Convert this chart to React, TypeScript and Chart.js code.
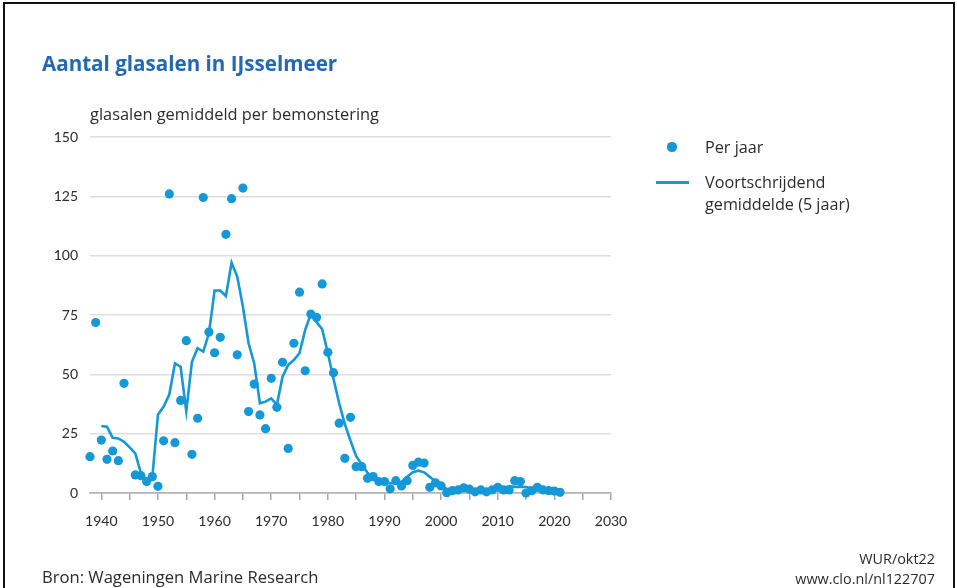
import React, { useEffect, useRef } from "react";
import { Chart, registerables } from "chart.js";

Chart.register(...registerables);

const years = [
  1938, 1939, 1940, 1941, 1942, 1943, 1944, 1945, 1946, 1947, 1948, 1949,
  1950, 1951, 1952, 1953, 1954, 1955, 1956, 1957, 1958, 1959,
  1960, 1961, 1962, 1963, 1964, 1965, 1966, 1967, 1968, 1969,
  1970, 1971, 1972, 1973, 1974, 1975, 1976, 1977, 1978, 1979,
  1980, 1981, 1982, 1983, 1984, 1985, 1986, 1987, 1988, 1989,
  1990, 1991, 1992, 1993, 1994, 1995, 1996, 1997, 1998, 1999,
  2000, 2001, 2002, 2003, 2004, 2005, 2006, 2007, 2008, 2009,
  2010, 2011, 2012, 2013, 2014, 2015, 2016, 2017, 2018, 2019,
  2020, 2021,
];

// glasalen gemiddeld per bemonstering, per jaar
const perJaar: (number | null)[] = [
  15.3, 71.8, 22.3, 14.2, 17.7, 13.6, 46.2, null, 7.6, 7.3, 4.8, 6.9,
  2.8, 22, 126, 21.2, 39, 64.2, 16.3, 31.5, 124.5, 67.8,
  59.1, 65.6, 109, 124, 58.2, 128.5, 34.3, 45.9, 32.9, 27.1,
  48.3, 36.1, 55.1, 18.8, 63.1, 84.6, 51.5, 75.4, 74, 88.1,
  59.3, 50.7, 29.4, 14.6, 31.9, 11.1, 11.1, 6.2, 6.9, 4.8,
  4.8, 1.8, 5.2, 3, 5.2, 11.6, 13, 12.6, 2.4, 4.3,
  3, 0.1, 1, 1.3, 2.2, 1.6, 0.5, 1.3, 0.5, 1.3,
  2.4, 1.3, 1.3, 5.2, 4.8, 0, 1, 2.4, 1.3, 1,
  0.8, 0.3,
];

// voortschrijdend gemiddelde (5 jaar)
const voortschrijdend: (number | null)[] = [
  null, null, 28.2, 27.9, 23.3, 23, 21.6, 19.2, 16.7, 8.3, 5, 6.5,
  33, 36.4, 41.5, 54.6, 53.2, 34.5, 55.3, 61, 59.6, 67.3,
  85.3, 85.3, 83, 97, 91.2, 78.5, 63.1, 54.6, 37.8, 38.5,
  39.9, 37.1, 49, 54, 56, 59, 68.7, 75.5, 72, 69,
  59, 48, 37.8, 29, 22, 15.5, 12, 8.5, 6.5, 5.5,
  4.5, 4.2, 4, 4.7, 6.9, 8.8, 9.4, 8.7, 6.8, 4.8,
  2.5, 1.8, 1.5, 1.3, 1.3, 1.3, 1.2, 1, 1.2, 1.4,
  1.5, 2.2, 2.8, 2.6, 2.6, 2.5, 1.9, 1.2, 1.1, 1,
  null, null,
];

const xTicks = [
  1940, 1945, 1950, 1955, 1960, 1965, 1970, 1975, 1980, 1985, 1990, 1995,
  2000, 2005, 2010, 2015, 2020, 2025, 2030,
];
const yTicks = [0, 25, 50, 75, 100, 125, 150];

const BLUE = "#1598d8";
const TEXT = "#2b2b2b";
const FONT = "'Open Sans', Lato, sans-serif";

function Label(props: {
  x: number;
  y: number;
  size: number;
  weight?: number;
  color?: string;
  right?: boolean;
  children: React.ReactNode;
}) {
  const lh = Math.round(props.size * 1.3);
  const style: React.CSSProperties = {
    position: "absolute",
    top: props.y - lh / 2,
    fontSize: props.size,
    lineHeight: lh + "px",
    fontWeight: props.weight || 400,
    color: props.color || TEXT,
    whiteSpace: "nowrap",
    fontFamily: FONT,
  };
  if (props.right) style.right = 957 - props.x;
  else style.left = props.x;
  return <div style={style}>{props.children}</div>;
}

export default function App() {
  const ref = useRef<HTMLCanvasElement>(null);

  useEffect(() => {
    document.body.style.margin = "0";
    const canvas = ref.current;
    if (!canvas) return;
    const tickFont = { family: "Lato", size: 14 };
    const chart = new Chart(canvas, {
      type: "line",
      data: {
        datasets: [
          {
            label: "Per jaar",
            data: years.map((yr, i) => ({ x: yr, y: perJaar[i] })) as any,
            showLine: false,
            pointRadius: 4.6,
            pointBackgroundColor: BLUE,
            pointBorderWidth: 0,
            borderColor: BLUE,
            clip: false as any,
          },
          {
            label: "Voortschrijdend gemiddelde (5 jaar)",
            data: years.map((yr, i) => ({ x: yr, y: voortschrijdend[i] })) as any,
            borderColor: BLUE,
            borderWidth: 2.6,
            pointRadius: 0,
            tension: 0,
            spanGaps: false,
            clip: false as any,
          },
        ],
      },
      options: {
        responsive: false,
        animation: false,
        devicePixelRatio: 1,
        layout: { padding: { left: 30, right: 346, top: 137, bottom: 55 } },
        plugins: {
          legend: { display: false },
          tooltip: { enabled: false },
          title: { display: false },
        },
        scales: {
          x: {
            type: "linear",
            min: 1938,
            max: 2030,
            afterBuildTicks: (s: any) => {
              s.ticks = xTicks.map((v) => ({ value: v }));
            },
            afterFit: (s: any) => {
              s.height = 40;
            },
            ticks: {
              autoSkip: false,
              maxRotation: 0,
              padding: 13,
              color: TEXT,
              font: tickFont,
              callback: (v: any) => (Number(v) % 10 === 0 ? String(v) : ""),
            },
            grid: {
              drawOnChartArea: false,
              drawTicks: true,
              tickLength: 7,
              color: "#a8a8a8",
              lineWidth: 1.5,
            },
            border: { display: true, color: "#b3b3b3", width: 1.5 },
          },
          y: {
            min: 0,
            max: 150,
            afterBuildTicks: (s: any) => {
              s.ticks = yTicks.map((v) => ({ value: v }));
            },
            afterFit: (s: any) => {
              s.width = 60;
            },
            ticks: {
              padding: 12,
              color: TEXT,
              font: tickFont,
            },
            grid: {
              drawTicks: false,
              color: (c: any) => (c.tick && c.tick.value === 0 ? "#b3b3b3" : "#dedede"),
              lineWidth: 1.5,
            },
            border: { display: false },
          },
        },
      },
    });
    return () => chart.destroy();
  }, []);

  return (
    <div
      style={{
        position: "relative",
        width: 957,
        height: 588,
        overflow: "hidden",
        background: "#fff",
        fontFamily: FONT,
      }}
    >
      <div
        style={{
          position: "absolute",
          left: 3,
          top: 2,
          width: 948,
          height: 600,
          border: "2px solid #111",
          borderBottom: "none",
        }}
      />
      <canvas
        ref={ref}
        width={957}
        height={588}
        style={{ position: "absolute", left: 0, top: 0, width: 957, height: 588 }}
      />
      <Label x={42} y={63} size={20.6} weight={700} color="#2468b3">
        Aantal glasalen in IJsselmeer
      </Label>
      <Label x={90} y={113} size={16.4}>
        glasalen gemiddeld per bemonstering
      </Label>
      <div
        style={{
          position: "absolute",
          left: 672 - 4.6,
          top: 147 - 4.6,
          width: 9.2,
          height: 9.2,
          borderRadius: "50%",
          background: BLUE,
        }}
      />
      <Label x={705} y={147} size={16.2}>
        Per jaar
      </Label>
      <div
        style={{
          position: "absolute",
          left: 656,
          top: 180.5,
          width: 33,
          height: 3,
          background: BLUE,
        }}
      />
      <Label x={705} y={182} size={16.2}>
        Voortschrijdend
      </Label>
      <Label x={705} y={204} size={16.2}>
        gemiddelde (5 jaar)
      </Label>
      <Label x={42} y={577} size={16.6}>
        Bron: Wageningen Marine Research
      </Label>
      <Label x={935} y={558} size={14.4} right>
        WUR/okt22
      </Label>
      <Label x={935} y={578} size={14.4} right>
        www.clo.nl/nl122707
      </Label>
    </div>
  );
}
